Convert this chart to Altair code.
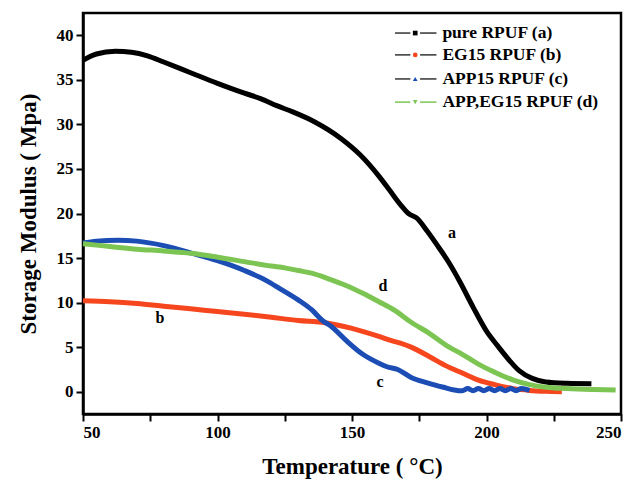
import altair as alt
import pandas as pd

FONT = "Liberation Serif"

# ---- data ----
a_T = [50, 55, 62, 68, 74, 80, 90, 100, 110, 116, 122, 128, 136, 146, 153, 160, 164, 168, 171, 174, 178, 182, 186, 190, 195, 200, 204, 208, 212, 217, 222, 230, 239]
a_v = [37.2, 37.9, 38.2, 38.1, 37.7, 37.0, 35.8, 34.6, 33.5, 32.9, 32.1, 31.4, 30.3, 28.4, 26.6, 24.2, 22.6, 21.0, 20.0, 19.5, 18.0, 16.3, 14.5, 12.4, 9.5, 6.8, 5.2, 3.7, 2.4, 1.5, 1.1, 0.95, 0.9]

b_T = [50, 60, 70, 80, 90, 100, 110, 120, 130, 140, 150, 160, 165, 168, 172, 179, 185, 191, 197, 203, 210, 216, 222, 228]
b_v = [10.2, 10.1, 9.9, 9.6, 9.3, 9.0, 8.7, 8.35, 8.0, 7.75, 7.1, 6.2, 5.7, 5.45, 5.0, 3.9, 2.9, 2.1, 1.3, 0.8, 0.35, 0.15, 0.05, 0.0]

c_T = [50, 55, 63, 70, 80, 91, 100, 110, 118, 123, 130, 135, 139, 142, 148, 154, 160, 163, 167, 172, 178, 184, 188, 191, 193, 195, 197, 199, 201, 203, 205, 207, 209, 211, 213, 216]
c_v = [16.7, 16.9, 17.0, 16.9, 16.4, 15.5, 14.7, 13.6, 12.5, 11.6, 10.3, 9.2, 8.0, 7.4, 5.7, 4.2, 3.2, 2.8, 2.5, 1.6, 1.0, 0.5, 0.2, 0.1, 0.35, 0.1, 0.35, 0.1, 0.35, 0.1, 0.35, 0.1, 0.35, 0.1, 0.35, 0.15]

d_T = [50, 60, 70, 80, 91, 100, 110, 120, 125, 130, 135, 141, 148, 155, 160, 166, 172, 179, 185, 191, 197, 203, 210, 216, 222, 230, 240, 248]
d_v = [16.6, 16.3, 16.0, 15.8, 15.5, 15.1, 14.6, 14.1, 13.9, 13.6, 13.3, 12.7, 11.9, 10.9, 10.1, 9.1, 7.8, 6.5, 5.2, 4.2, 3.1, 2.2, 1.3, 0.8, 0.5, 0.35, 0.25, 0.2]

series_keys = ["a", "b", "c", "d"]
series_names = ["pure RPUF (a)", "EG15 RPUF (b)", "APP15 RPUF (c)", "APP,EG15 RPUF (d)"]
series_colors = ["#000000", "#f5461e", "#1b4db5", "#7cc553"]
legend_line_colors = ["#333333", "#333333", "#333333", "#7cc553"]
legend_shapes = ["square", "circle", "triangle-up", "triangle-down"]

curve_labels = ["a", "b", "c", "d"]
curve_label_T = [187.2, 78.6, 160.4, 161.5]
curve_label_v = [17.8, 8.3, 1.05, 11.9]

x_ticks = [50, 75, 100, 125, 150, 175, 200, 225, 250]
y_ticks = [0, 2.5, 5, 7.5, 10, 12.5, 15, 17.5, 20, 22.5, 25, 27.5, 30, 32.5, 35, 37.5, 40]

# legend placement (in data units)
legend_v = [40.25, 37.8, 35.1, 32.5]

rows = []
for key, Ts, vs in zip(series_keys, [a_T, b_T, c_T, d_T], [a_v, b_v, c_v, d_v]):
    for i, (t, v) in enumerate(zip(Ts, vs)):
        rows.append({"series": key, "T": t, "v": v, "order": i})
df = pd.DataFrame(rows)

xscale = alt.Scale(domain=[50, 250], nice=False, zero=False)
yscale = alt.Scale(domain=[-2.5, 42.5], nice=False, zero=False)
cscale = alt.Scale(domain=series_keys, range=series_colors)

x_axis = alt.Axis(values=x_ticks, labelExpr="datum.value % 50 == 0 ? datum.label : ''",
                  title="Temperature ( °C)", titlePadding=15)
y_axis = alt.Axis(values=y_ticks, labelExpr="datum.value % 5 == 0 ? datum.label : ''",
                  title="Storage Modulus ( Mpa)", titlePadding=16)

lines = alt.Chart(df).mark_line(strokeWidth=5, interpolate="monotone").encode(
    x=alt.X("T:Q", scale=xscale, axis=x_axis),
    y=alt.Y("v:Q", scale=yscale, axis=y_axis),
    color=alt.Color("series:N", scale=cscale, legend=None),
    order="order:Q",
    detail="series:N",
)

lab_df = pd.DataFrame({"t": curve_labels, "T": curve_label_T, "v": curve_label_v})
labels = alt.Chart(lab_df).mark_text(font=FONT, fontWeight="bold", fontSize=16, color="black").encode(
    x=alt.X("T:Q", scale=xscale), y=alt.Y("v:Q", scale=yscale), text="t:N"
)

leg_df = pd.DataFrame({
    "name": series_names,
    "v": legend_v,
    "lc": legend_line_colors,
    "mc": series_colors,
    "shape": legend_shapes,
    "x1": [166.0] * 4, "x2": [171.7] * 4,
    "x3": [175.3] * 4, "x4": [181.4] * 4,
    "xm": [173.5] * 4, "xt": [183.6] * 4,
})
leg_base = alt.Chart(leg_df)
leg_l1 = leg_base.mark_rule(strokeWidth=1.5).encode(
    x=alt.X("x1:Q", scale=xscale), x2="x2:Q", y=alt.Y("v:Q", scale=yscale),
    color=alt.Color("lc:N", scale=None))
leg_l2 = leg_base.mark_rule(strokeWidth=1.5).encode(
    x=alt.X("x3:Q", scale=xscale), x2="x4:Q", y=alt.Y("v:Q", scale=yscale),
    color=alt.Color("lc:N", scale=None))
leg_pt = leg_base.mark_point(filled=True, size=22, opacity=1).encode(
    x=alt.X("xm:Q", scale=xscale), y=alt.Y("v:Q", scale=yscale),
    color=alt.Color("mc:N", scale=None),
    shape=alt.Shape("shape:N", scale=None))
leg_tx = leg_base.mark_text(font=FONT, fontWeight="bold", fontSize=17.5, align="left",
                            baseline="middle", color="black").encode(
    x=alt.X("xt:Q", scale=xscale), y=alt.Y("v:Q", scale=yscale), text="name:N")

chart = alt.layer(lines, labels, leg_l1, leg_l2, leg_pt, leg_tx).properties(
    width=538, height=401,
    padding={"left": 83, "top": 13, "right": 15, "bottom": 75},
    autosize=alt.AutoSizeParams(type="none"),
    background="white",
).configure_view(stroke="black", strokeWidth=2.5).configure_axis(
    grid=False,
    domainColor="black", domainWidth=2.5,
    tickColor="black", tickWidth=2, tickSize=7,
    labelFont=FONT, labelFontWeight="bold", labelFontSize=17, labelColor="black",
    labelPadding=3,
    titleFont=FONT, titleFontWeight="bold", titleFontSize=23, titleColor="black",
)

chart.save("out.html", embed_options={"renderer": "svg", "actions": False})
